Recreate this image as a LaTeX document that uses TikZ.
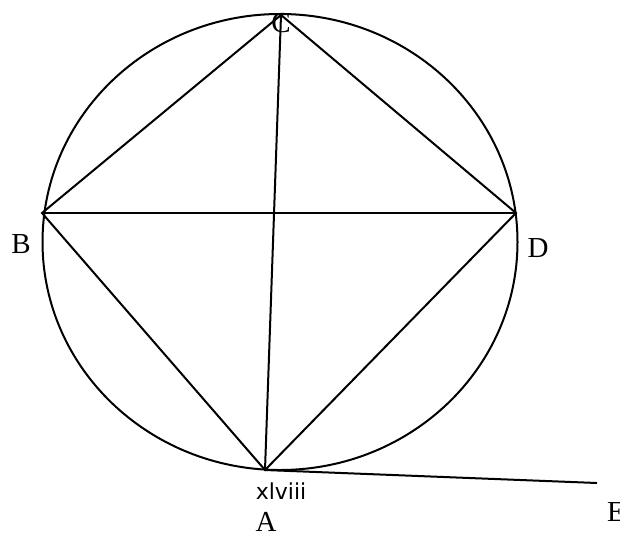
\documentclass[tikz,border=0pt]{standalone}
\usepackage{fontspec}
\setmainfont{Liberation Serif}
\newfontfamily\lblsans{DejaVu Sans}
\begin{document}
\begin{tikzpicture}[x=1pt,y=-1pt,line width=2pt,
  lbl/.style={font=\fontsize{29}{30}\selectfont,inner sep=0pt},
  sans/.style={font=\lblsans\fontsize{22}{23}\selectfont,inner sep=0pt}]
\useasboundingbox (0,0) rectangle (620,536);
\coordinate (A) at (265,470);
\coordinate (B) at (42,213);
\coordinate (C) at (281,15);
\coordinate (D) at (516,213);
\coordinate (Eend) at (597,483);
\coordinate (O) at (280,242);
\draw (O) ellipse [x radius=237.5, y radius=228];
\draw (C) -- (B) -- (A) -- (D) -- (C);
\draw (B) -- (D);
\draw (A) -- (C);
\draw (A) -- (Eend);
\node[lbl] (lC) at (281,23) {C};
\node[lbl] (lB) at (21,244) {B};
\node[lbl] (lD) at (538,248) {D};
\node[lbl] (lA) at (266,522) {A};
\node[lbl] (lE) at (616,512) {E};
\node[sans] (lx) at (281,491) {xlviii};
\end{tikzpicture}
\end{document}
